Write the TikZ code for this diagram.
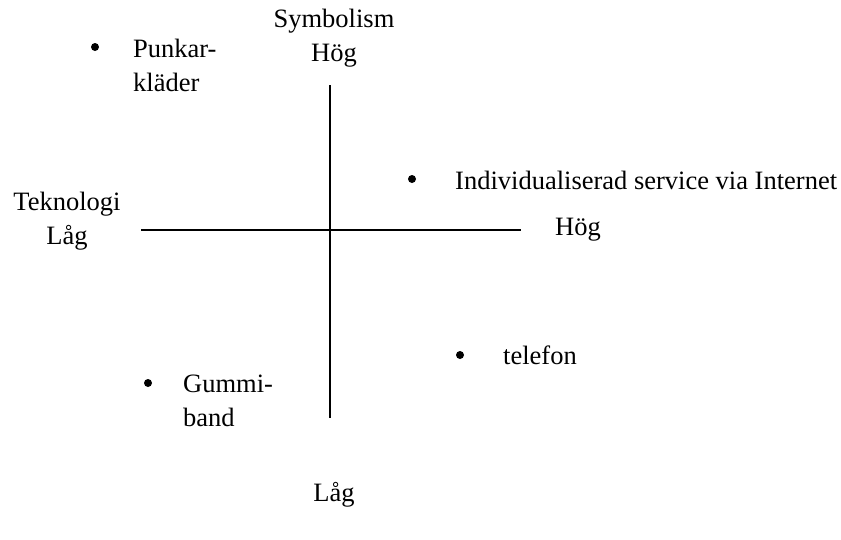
\documentclass[tikz,border=0pt]{standalone}
\usepackage{fontspec}
\setmainfont{Liberation Serif}
\begin{document}
\begin{tikzpicture}[x=1pt,y=-1pt,
  lbl/.style={inner sep=0pt,font=\fontsize{26.5}{34}\selectfont},
  lblw/.style={lbl,anchor=west,align=left},
  dot/.style={circle,fill=black,inner sep=0pt,minimum size=8pt},
  axis/.style={line width=1.4pt}]
\useasboundingbox (0,0) rectangle (841,539);
% axes
\coordinate (top) at (330,85);
\coordinate (bot) at (330,418);
\coordinate (left) at (141,230);
\coordinate (right) at (521,230);
\draw[axis] (top) -- (bot);
\draw[axis] (left) -- (right);
% axis labels
\node[lbl,align=center] (ytop) at (334,38) {Symbolism\\Hög};
\node[lbl,align=center] (xleft) at (67,221) {Teknologi\\Låg};
\node[lbl] (xright) at (578,230) {Hög};
\node[lbl] (ybot) at (334,495) {Låg};
% items
\node[dot] (d1) at (95,47) {};
\node[lblw] (t1) at (133,65) {Punkar-\\kläder};
\node[dot] (d2) at (412,179) {};
\node[lblw] (t2) at (455,180) {Individualiserad service via Internet};
\node[dot] (d3) at (460,355) {};
\node[lblw] (t3) at (503,355) {telefon};
\node[dot] (d4) at (148,383) {};
\node[lblw] (t4) at (183,401) {Gummi-\\band};
\end{tikzpicture}
\end{document}
